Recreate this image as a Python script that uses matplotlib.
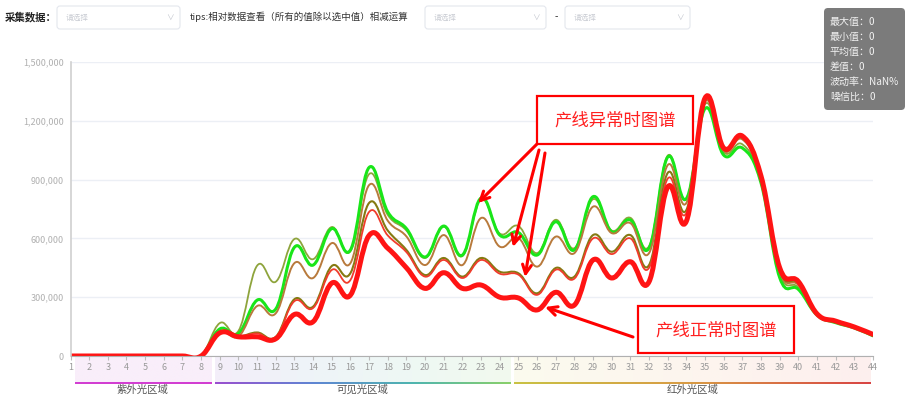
import numpy as np
import matplotlib
matplotlib.use("Agg")
import matplotlib.pyplot as plt
from matplotlib.path import Path
from matplotlib.patches import PathPatch, FancyBboxPatch, Rectangle
from matplotlib.colors import LinearSegmentedColormap

plt.rcParams['font.family'] = ['Noto Sans CJK SC', 'DejaVu Sans']

# --- spectrum data (values in thousands) ---
bands = list(range(1, 45))

olive_top = [0, 0, 0, 0, 0, 0, 0, 0,
             168, 128, 461, 379, 597, 494, 658, 535, 928, 720, 640, 500, 660, 510,
             800, 625, 663, 525, 695, 550, 800, 640, 705, 560, 1022, 800, 1285, 1040,
             1080, 895, 420, 350, 210, 172, 144, 105]
green_abn = [0, 0, 0, 0, 0, 0, 0, 0,
             138, 115, 285, 240, 555, 464, 650, 541, 962, 735, 650, 505, 663, 515,
             806, 617, 630, 515, 685, 541, 813, 634, 694, 551, 1015, 803, 1262, 1025,
             1061, 883, 400, 340, 209, 170, 143, 103]
brown = [0, 0, 0, 0, 0, 0, 0, 0,
         125, 100, 255, 218, 474, 398, 576, 474, 872, 690, 610, 464, 617, 464,
         704, 558, 602, 456, 609, 525, 762, 627, 678, 525, 974, 781, 1298, 1048,
         1105, 905, 430, 362, 212, 175, 146, 108]
olive_low = [0, 0, 0, 0, 0, 0, 0, 0,
             122, 100, 120, 98, 290, 252, 459, 423, 781, 640, 541, 413, 500, 405,
             500, 430, 422, 320, 449, 405, 617, 532, 617, 464, 934, 745, 1305, 1055,
             1112, 910, 438, 370, 213, 176, 147, 109]
red_thin = [0, 0, 0, 0, 0, 0, 0, 0,
            120, 100, 115, 95, 280, 245, 439, 388, 735, 615, 530, 405, 490, 398,
            490, 420, 415, 312, 440, 395, 600, 520, 600, 450, 905, 730, 1310, 1058,
            1118, 915, 445, 375, 214, 177, 147, 110]
normal_red = [0, 0, 0, 0, 0, 0, 0, 0,
              118, 98, 98, 88, 212, 175, 372, 311, 615, 550, 450, 345, 425, 345,
              362, 300, 296, 235, 325, 260, 490, 398, 481, 379, 862, 688, 1316, 1061,
              1122, 918, 450, 380, 215, 178, 148, 110]

region_names = ['紫外光区域', '可见光区域', '红外光区域']
y_ticks = [0, 300000, 600000, 900000, 1200000, 1500000]
tip_lines = ['最大值：0', '最小值：0', '平均值：0', '差值：0', '波动率：NaN%', '噪信比：0']


# --- smooth line like the web chart (cubic bezier through the points) ---
def smooth_path(xs, ys, t=0.2):
    pts = np.column_stack([xs, ys]).astype(float)
    n = len(pts)
    verts = [pts[0]]
    codes = [Path.MOVETO]
    for i in range(n - 1):
        p_prev = pts[i - 1] if i > 0 else pts[i]
        p0, p1 = pts[i], pts[i + 1]
        p_next = pts[i + 2] if i + 2 < n else pts[i + 1]
        verts += [p0 + (p1 - p_prev) * t, p1 - (p_next - p0) * t, p1]
        codes += [Path.CURVE4] * 3
    return Path(verts, codes)


W, H = 911, 397
fig = plt.figure(figsize=(W / 100, H / 100), dpi=100)
left, right, top, bottom = 70.5, 873, 62, 356
ax = fig.add_axes([left / W, 1 - bottom / H, (right - left) / W, (bottom - top) / H], zorder=2)
ax.patch.set_alpha(0)

series = [
    (olive_top, '#8ea43c', 1.3),
    (green_abn, '#19e619', 2.2),
    (brown, '#b87a3c', 1.4),
    (olive_low, '#857a12', 1.5),
    (red_thin, '#f03c2c', 1.3),
    (normal_red, '#ff1414', 3.6),
]
for vals, col, lw in series:
    p = smooth_path(bands, np.array(vals) * 1000)
    ax.add_patch(PathPatch(p, fill=False, ec=col, lw=lw, joinstyle='round', capstyle='round'))

ax.set_xlim(1, 44)
ax.set_ylim(0, 1500000)
ax.set_xticks(bands)
ax.set_xticklabels([str(b) for b in bands])
ax.set_yticks(y_ticks)
ax.set_yticklabels([f'{v:,}' for v in y_ticks])
ax.grid(axis='y', color='#eceff5', lw=1)
ax.set_axisbelow(True)
for s in ['top', 'right']:
    ax.spines[s].set_visible(False)
ax.spines['left'].set_color('#d0d0d0')
ax.spines['left'].set_linewidth(1.2)
ax.spines['bottom'].set_color('#b0b0b0')
ax.tick_params(axis='y', length=0, pad=5, labelsize=6.5, labelcolor='#b0b0b0')
ax.tick_params(axis='x', length=3, width=0.8, color='#bbbbbb', pad=2, labelsize=6.5, labelcolor='#999999')

# --- spectral region band under the axis ---
axb = fig.add_axes([left / W, 0, (right - left) / W, (H - bottom) / H], zorder=1)
axb.set_xlim(1, 44)
axb.set_ylim(H, bottom)
axb.axis('off')
grad = np.linspace(0, 1, 256)[None, :]
regions = [
    (1.24, 8.53, ['#f9eefa', '#f9eefa'], ['#d23fd2', '#d23fd2']),
    (8.75, 24.56, ['#f4eefa', '#eef4f8', '#eef8f4', '#f2faee'],
     ['#9a4fcf', '#5f86d3', '#4fb5b0', '#8ad06a']),
    (24.78, 43.9, ['#fbfbee', '#fdf5ee', '#fdefee'],
     ['#c9c244', '#d99a45', '#d84444']),
]
for (x0, x1, bg, ln), name in zip(regions, region_names):
    axb.imshow(grad, cmap=LinearSegmentedColormap.from_list('bg', bg), extent=(x0, x1, 382, bottom + 1),
               aspect='auto', interpolation='bilinear')
    axb.imshow(grad, cmap=LinearSegmentedColormap.from_list('ln', ln), extent=(x0, x1, 384, 382),
               aspect='auto', interpolation='bilinear')
    axb.text((x0 + x1) / 2, 390, name, ha='center', va='center', fontsize=7.5, color='#555555')
axb.set_xlim(1, 44)
axb.set_ylim(H, bottom)

# --- overlay: controls, tooltip and annotations (pixel coords) ---
ov = fig.add_axes([0, 0, 1, 1], zorder=5)
ov.set_xlim(0, W)
ov.set_ylim(H, 0)
ov.axis('off')

ov.text(5, 17, '采集数据：', fontsize=7.5, fontweight='bold', color='#222222', va='center')
for x0, x1 in [(57, 180), (425, 546), (565, 690)]:
    ov.add_patch(FancyBboxPatch((x0, 6), x1 - x0, 23, boxstyle='round,pad=0,rounding_size=3',
                                fc='white', ec='#e4e7ed', lw=0.8))
    ov.text(x0 + 9, 17.5, '请选择', fontsize=5.5, color='#c8cbd2', va='center')
    ov.text(x1 - 14, 17.5, '∨', fontsize=5.5, color='#c0c4cc', va='center')
ov.text(190, 17, 'tips:相对数据查看（所有的值除以选中值）相减运算', fontsize=6.8, color='#333333', va='center')
ov.text(556, 17, '-', fontsize=7, color='#333333', va='center', ha='center')

ov.add_patch(FancyBboxPatch((824, 8), 81, 102, boxstyle='round,pad=0,rounding_size=4',
                            fc='#7b7b7b', ec='none'))
for i, line in enumerate(tip_lines):
    ov.text(830, 22 + i * 15, line, fontsize=7.2, color='#f2f2f2', va='center')

# annotation boxes
for (x0, y0, x1, y1), label in [((537, 96, 693, 144), '产线异常时图谱'),
                                 ((638, 306, 794, 353), '产线正常时图谱')]:
    ov.add_patch(Rectangle((x0, y0), x1 - x0, y1 - y0, fc='white', ec='#ff0000', lw=1.6))
    ov.text((x0 + x1) / 2, (y0 + y1) / 2 + 1, label, ha='center', va='center',
            fontsize=12.5, color='#ff2020')

arrows = [((537, 144), (478, 203)), ((539, 150), (513, 247)),
          ((545, 153), (525, 277)), ((633, 337), (545, 307))]
for tail, head in arrows:
    ov.annotate('', xy=head, xytext=tail,
                arrowprops=dict(arrowstyle='->', color='#ff0000', lw=2.2, mutation_scale=16,
                                shrinkA=0, shrinkB=0))

fig.savefig('out.png', dpi=100)
